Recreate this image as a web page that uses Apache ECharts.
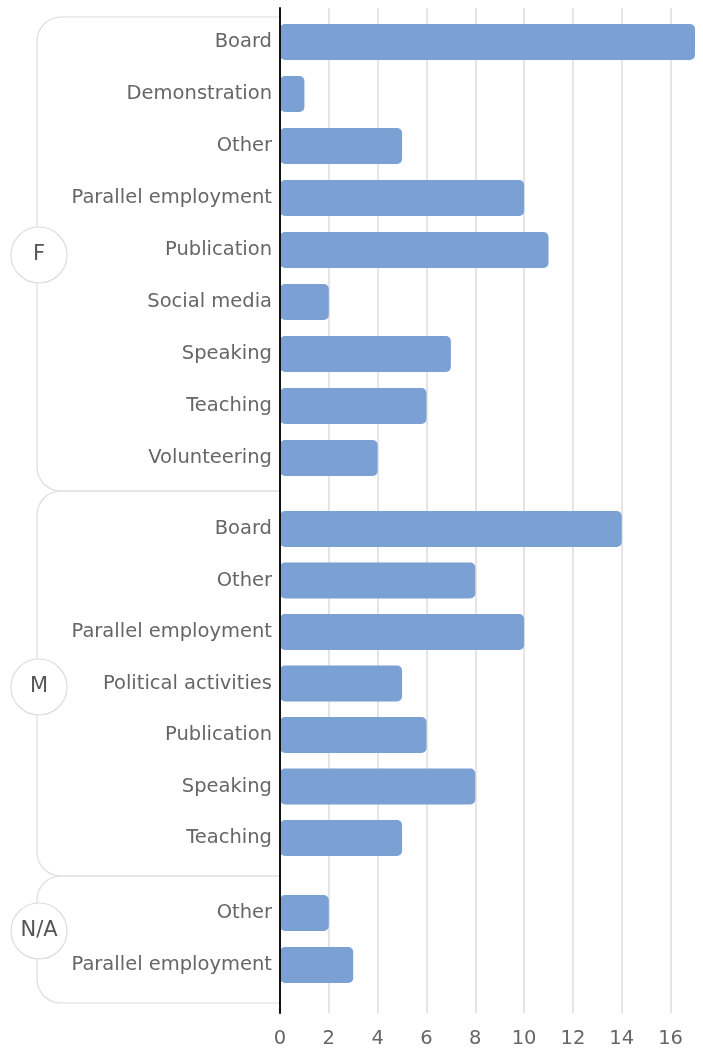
<!DOCTYPE html>
<html>
<head>
<meta charset="utf-8">
<script src="https://cdn.jsdelivr.net/npm/echarts@6/dist/echarts.min.js"></script>
<style>
  html, body { margin: 0; padding: 0; background: #fff; }
  #chart { width: 703px; height: 1051px; }
</style>
</head>
<body>
<div id="chart"></div>
<script>
// ---- Data ----
const groupNames = ['F', 'M', 'N/A'];
const fCategories = ['Board', 'Demonstration', 'Other', 'Parallel employment', 'Publication', 'Social media', 'Speaking', 'Teaching', 'Volunteering'];
const fValues = [17, 1, 5, 10, 11, 2, 7, 6, 4];
const mCategories = ['Board', 'Other', 'Parallel employment', 'Political activities', 'Publication', 'Speaking', 'Teaching'];
const mValues = [14, 8, 10, 5, 6, 8, 5];
const naCategories = ['Other', 'Parallel employment'];
const naValues = [2, 3];
const axisMax = 17;
const tickInterval = 2;

// ---- Layout ----
const LEFT = 280, RIGHT = 8;
const FONT = 'DejaVu Sans';
const FS = 19.5;
const TEXT = '#666666';
const BAR = '#7ba0d4';
const LINE = '#dddddd';

const groups = [
  { name: groupNames[0], cats: fCategories, vals: fValues, top: 16, band: 52, bTop: 17, bBot: 491, cy: 255 },
  { name: groupNames[1], cats: mCategories, vals: mValues, top: 503.25, band: 51.5, bTop: 491, bBot: 876, cy: 687 },
  { name: groupNames[2], cats: naCategories, vals: naValues, top: 887, band: 52, bTop: 876, bBot: 1003, cy: 931 }
];

const grids = [{ left: LEFT, right: RIGHT, top: 8, bottom: 38 }];
const xAxes = [{
  gridIndex: 0, type: 'value', min: 0, max: axisMax, interval: tickInterval,
  axisLine: { show: false }, axisTick: { show: false },
  axisLabel: { color: TEXT, fontSize: FS, fontFamily: FONT, margin: 16, showMaxLabel: false },
  splitLine: { show: true, showMaxLine: false, lineStyle: { color: LINE, width: 1.5 } }
}];
const yAxes = [{
  gridIndex: 0, type: 'value', min: 0, max: 1, z: 10,
  axisLine: { show: true, lineStyle: { color: '#111', width: 2 } },
  axisTick: { show: false }, axisLabel: { show: false }, splitLine: { show: false }
}];
const series = [];

groups.forEach((g, i) => {
  const h = g.band * g.cats.length;
  grids.push({ left: LEFT, right: RIGHT, top: g.top, height: h });
  xAxes.push({
    gridIndex: i + 1, type: 'value', min: 0, max: axisMax, show: false,
    splitLine: { show: false }
  });
  yAxes.push({
    gridIndex: i + 1, type: 'category', data: g.cats, inverse: true,
    axisLine: { show: false }, axisTick: { show: false },
    axisLabel: { color: TEXT, fontSize: FS, fontFamily: FONT, margin: 8 },
    splitLine: { show: false }
  });
  series.push({
    type: 'bar', xAxisIndex: i + 1, yAxisIndex: i + 1, data: g.vals,
    barWidth: 36, z: 2,
    itemStyle: { color: BAR, borderRadius: 5 },
    silent: true
  });
});

// ---- Brackets ----
const graphics = [];
const bx = 37, r = 24;
const lineStyle = { stroke: LINE, lineWidth: 1.2, fill: 'none' };
groups.forEach(g => {
  graphics.push({ type: 'line', z: 1, shape: { x1: bx + r, y1: g.bTop, x2: LEFT, y2: g.bTop }, style: lineStyle });
  graphics.push({ type: 'line', z: 1, shape: { x1: bx + r, y1: g.bBot, x2: LEFT, y2: g.bBot }, style: lineStyle });
  graphics.push({ type: 'line', z: 1, shape: { x1: bx, y1: g.bTop + r, x2: bx, y2: g.bBot - r }, style: lineStyle });
  graphics.push({ type: 'arc', z: 1, shape: { cx: bx + r, cy: g.bTop + r, r: r, startAngle: Math.PI, endAngle: Math.PI * 1.5, clockwise: true }, style: lineStyle });
  graphics.push({ type: 'arc', z: 1, shape: { cx: bx + r, cy: g.bBot - r, r: r, startAngle: Math.PI * 0.5, endAngle: Math.PI, clockwise: true }, style: lineStyle });
  graphics.push({
    type: 'circle', z: 3, shape: { cx: bx + 2, cy: g.cy, r: 28 },
    style: { fill: '#fff', stroke: LINE, lineWidth: 1.2 }
  });
  graphics.push({
    type: 'text', z: 4, x: bx + 2, y: g.cy,
    style: { text: g.name, fill: '#555', font: `21px "${FONT}"`, align: 'center', verticalAlign: 'middle' }
  });
});

const chart = echarts.init(document.getElementById('chart'), null, { renderer: 'canvas' });
chart.setOption({
  animation: false,
  backgroundColor: '#fff',
  grid: grids,
  xAxis: xAxes,
  yAxis: yAxes,
  series: series,
  graphic: graphics
});
</script>
</body>
</html>
